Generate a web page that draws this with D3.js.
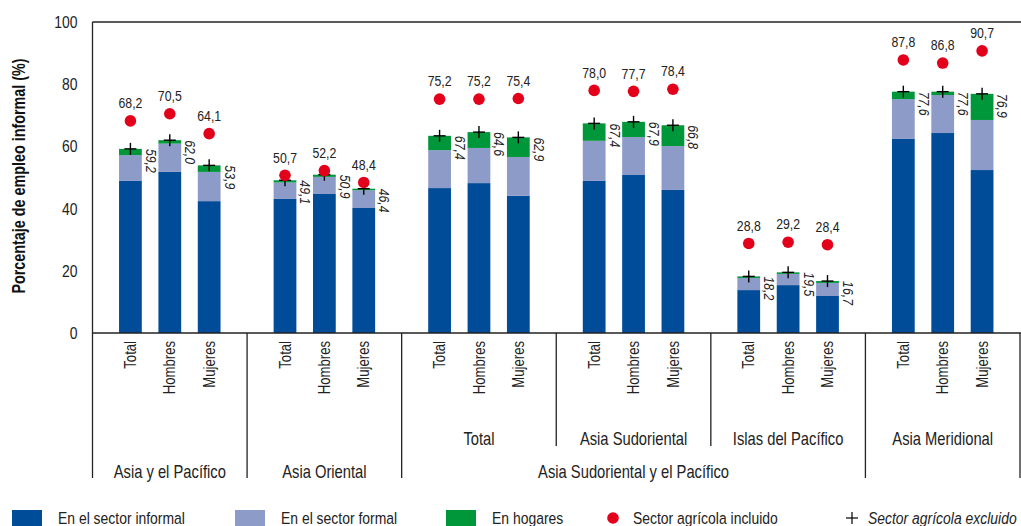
<!DOCTYPE html>
<html>
<head>
<meta charset="utf-8">
<script src="https://cdn.jsdelivr.net/npm/d3@7"></script>
<style>
  body { margin: 0; background: #fff; }
  svg { display: block; }
</style>
</head>
<body>
<svg id="chart" width="1021" height="526"></svg>
<script>
// datos
var groups = ['Asia y el Pacífico', 'Asia Oriental', 'Total', 'Asia Sudoriental', 'Islas del Pacífico', 'Asia Meridional'];
var sexes = ['Total', 'Hombres', 'Mujeres'];
var informal = [48.9, 51.8, 42.4, 43.1, 44.7, 40.2, 46.6, 48.2, 44.1, 48.9, 50.8, 46.0, 13.8, 15.4, 11.9, 62.4, 64.3, 52.4];
var formal   = [8.3, 9.1, 9.4, 5.3, 5.5, 5.7, 12.2, 11.3, 12.5, 12.9, 12.2, 14.1, 3.9, 3.6, 4.2, 12.8, 12.2, 16.1];
var hogares  = [2.0, 1.1, 2.1, 0.7, 0.7, 0.5, 4.6, 5.1, 6.3, 5.6, 4.9, 6.7, 0.5, 0.5, 0.6, 2.4, 1.1, 8.4];
var excluido = [59.2, 62.0, 53.9, 49.1, 50.9, 46.4, 67.4, 64.6, 62.9, 67.4, 67.9, 66.8, 18.2, 19.5, 16.7, 77.6, 77.6, 76.9];
var incluido = [68.2, 70.5, 64.1, 50.7, 52.2, 48.4, 75.2, 75.2, 75.4, 78.0, 77.7, 78.4, 28.8, 29.2, 28.4, 87.8, 86.8, 90.7];
var yTicks = [0, 20, 40, 60, 80, 100];
// etiquetas de segundo y tercer nivel
var level2 = [null, null, 'Total', 'Asia Sudoriental', 'Islas del Pacífico', 'Asia Meridional'];
var level3 = [{label: 'Asia y el Pacífico', from: 0, to: 0}, {label: 'Asia Oriental', from: 1, to: 1}, {label: 'Asia Sudoriental y el Pacífico', from: 2, to: 4}];
var seriesNames = ['En el sector informal', 'En el sector formal', 'En hogares'];
var colors = ['#004c99', '#8d9bc9', '#00963a'];
var red = '#e3001b';

// fuente estrecha: Liberation Sans comprimida en x
var FONT = '"Liberation Sans", Arial, sans-serif';
var SX = 0.82;
var fmt = d3.formatLocale({decimal: ',', thousands: '.', grouping: [3], currency: ['', '']}).format('.1f');

function tf(x, y, rot){
    return 'translate(' + x + ',' + y + ')' + (rot ? ' rotate(' + rot + ')' : '') + ' scale(' + SX + ',1)';
}

var svg = d3.select('#chart').style('font-family', FONT);
var mLeft = 92.5, mRight = 1020, mTop = 22, mBottom = 333;

var x0 = d3.scaleBand().domain(d3.range(groups.length)).range([mLeft, mRight]);
var x1 = d3.scaleBand().domain(sexes).range([0, x0.bandwidth()]).paddingInner(0.422).paddingOuter(0.674);
var y = d3.scaleLinear().domain([0, 100]).range([mBottom, mTop]);

// filas: una por barra
var rows = [];
groups.forEach(function(g, gi){
    sexes.forEach(function(s, si){
        var i = gi * 3 + si;
        rows.push({g: gi, s: s, vals: [informal[i], formal[i], hogares[i]], excl: excluido[i], incl: incluido[i]});
    });
});
rows.forEach(function(r){
    r.x = x0(r.g) + x1(r.s);
    r.cx = r.x + x1.bandwidth() / 2;
    r.total = d3.sum(r.vals);
});

var stack = d3.stack().keys([0, 1, 2]).value(function(d, k){ return d.vals[k]; });
var series = stack(rows);

svg.append('g').selectAll('g').data(series).join('g')
    .attr('fill', function(d, i){ return colors[i]; })
    .selectAll('rect').data(function(d){ return d; }).join('rect')
    .attr('x', function(d){ return d.data.x; })
    .attr('width', x1.bandwidth())
    .attr('y', function(d){ return y(d[1]); })
    .attr('height', function(d){ return y(d[0]) - y(d[1]); });

// marco
svg.append('line').attr('x1', mLeft).attr('x2', 1021).attr('y1', mTop).attr('y2', mTop).attr('stroke', '#222').attr('stroke-width', 1.3);
svg.append('line').attr('x1', mLeft).attr('x2', 1021).attr('y1', mBottom).attr('y2', mBottom).attr('stroke', '#222').attr('stroke-width', 1.3);
svg.append('line').attr('x1', mLeft).attr('x2', mLeft).attr('y1', mTop).attr('y2', mBottom).attr('stroke', '#222').attr('stroke-width', 1.3);

// eje y
var yAxis = svg.append('g').attr('transform', 'translate(' + mLeft + ',0)')
    .call(d3.axisLeft(y).tickValues(yTicks).tickSize(0).tickPadding(15));
yAxis.select('.domain').remove();
yAxis.selectAll('text').attr('font-family', FONT).attr('font-size', 17).attr('fill', '#222')
    .attr('x', null).attr('transform', 'translate(-15,0) scale(' + SX + ',1)');

svg.append('text')
    .attr('transform', tf(19, 176, -90))
    .attr('text-anchor', 'middle').attr('dy', '0.35em')
    .attr('font-size', 17.5).attr('font-weight', 'bold').attr('fill', '#111')
    .text('Porcentaje de empleo informal (%)');

// separadores de grupos
var deep = [true, true, true, false, false, true, true];
d3.range(groups.length + 1).forEach(function(i){
    var xx = i < groups.length ? x0(i) : mRight;
    svg.append('line')
        .attr('x1', xx).attr('x2', xx)
        .attr('y1', mBottom).attr('y2', deep[i] ? 478 : 446)
        .attr('stroke', '#222').attr('stroke-width', 1.3);
});

// etiquetas de sexo
svg.append('g').selectAll('text').data(rows).join('text')
    .attr('transform', function(d){ return tf(d.cx, 341, -90); })
    .attr('text-anchor', 'end').attr('dy', '0.35em')
    .attr('font-size', 16).attr('fill', '#222')
    .text(function(d){ return d.s; });

// nivel 2
svg.append('g').selectAll('text').data(level2.map(function(l, i){ return {l: l, i: i}; }).filter(function(d){ return d.l; })).join('text')
    .attr('transform', function(d){ return tf(x0(d.i) + x0.bandwidth() / 2, 439); })
    .attr('dy', '0.35em').attr('text-anchor', 'middle')
    .attr('font-size', 18).attr('fill', '#222')
    .text(function(d){ return d.l; });

// nivel 3
svg.append('g').selectAll('text').data(level3).join('text')
    .attr('transform', function(d){ return tf((x0(d.from) + x0(d.to) + x0.bandwidth()) / 2, 472); })
    .attr('dy', '0.35em').attr('text-anchor', 'middle')
    .attr('font-size', 18).attr('fill', '#222')
    .text(function(d){ return d.label; });

// valores sin agricultura (cursiva)
svg.append('g').selectAll('text').data(rows).join('text')
    .attr('transform', function(d){ return tf(d.x + x1.bandwidth() + 4, y(d.total), 90); })
    .attr('text-anchor', 'start')
    .attr('font-size', 15).attr('font-style', 'italic').attr('fill', '#222')
    .text(function(d){ return fmt(d.excl); });

// cruces
var plus = svg.append('g').attr('stroke', '#000').attr('stroke-width', 1.4);
rows.forEach(function(d){
    plus.append('line').attr('x1', d.cx - 6).attr('x2', d.cx + 6).attr('y1', y(d.total)).attr('y2', y(d.total));
    plus.append('line').attr('x1', d.cx).attr('x2', d.cx).attr('y1', y(d.total) - 6).attr('y2', y(d.total) + 6);
});

// puntos con agricultura
svg.append('g').selectAll('circle').data(rows).join('circle')
    .attr('cx', function(d){ return d.cx; })
    .attr('cy', function(d){ return y(d.incl); })
    .attr('r', 5.8).attr('fill', red);

svg.append('g').selectAll('text').data(rows).join('text')
    .attr('transform', function(d){ return tf(d.cx, y(d.incl) - 18); })
    .attr('dy', '0.35em').attr('text-anchor', 'middle')
    .attr('font-size', 15).attr('fill', '#222')
    .text(function(d){ return fmt(d.incl); });

// leyenda
var lg = svg.append('g').attr('font-size', 17).attr('fill', '#222');
var legX = [12, 235, 446];
seriesNames.forEach(function(n, i){
    lg.append('rect').attr('x', legX[i]).attr('y', 510).attr('width', 30).attr('height', 20).attr('fill', colors[i]);
    lg.append('text').attr('transform', tf(legX[i] + 46, 518)).attr('dy', '0.35em').text(n);
});
lg.append('circle').attr('cx', 613).attr('cy', 518).attr('r', 5.8).attr('fill', red);
lg.append('text').attr('transform', tf(633, 518)).attr('dy', '0.35em').text('Sector agrícola incluido');
lg.append('line').attr('x1', 846).attr('x2', 858).attr('y1', 518).attr('y2', 518).attr('stroke', '#000').attr('stroke-width', 1.2);
lg.append('line').attr('x1', 852).attr('x2', 852).attr('y1', 512).attr('y2', 524).attr('stroke', '#000').attr('stroke-width', 1.2);
lg.append('text').attr('transform', tf(868, 518)).attr('dy', '0.35em').attr('font-style', 'italic').text('Sector agrícola excluido');
</script>
</body>
</html>
